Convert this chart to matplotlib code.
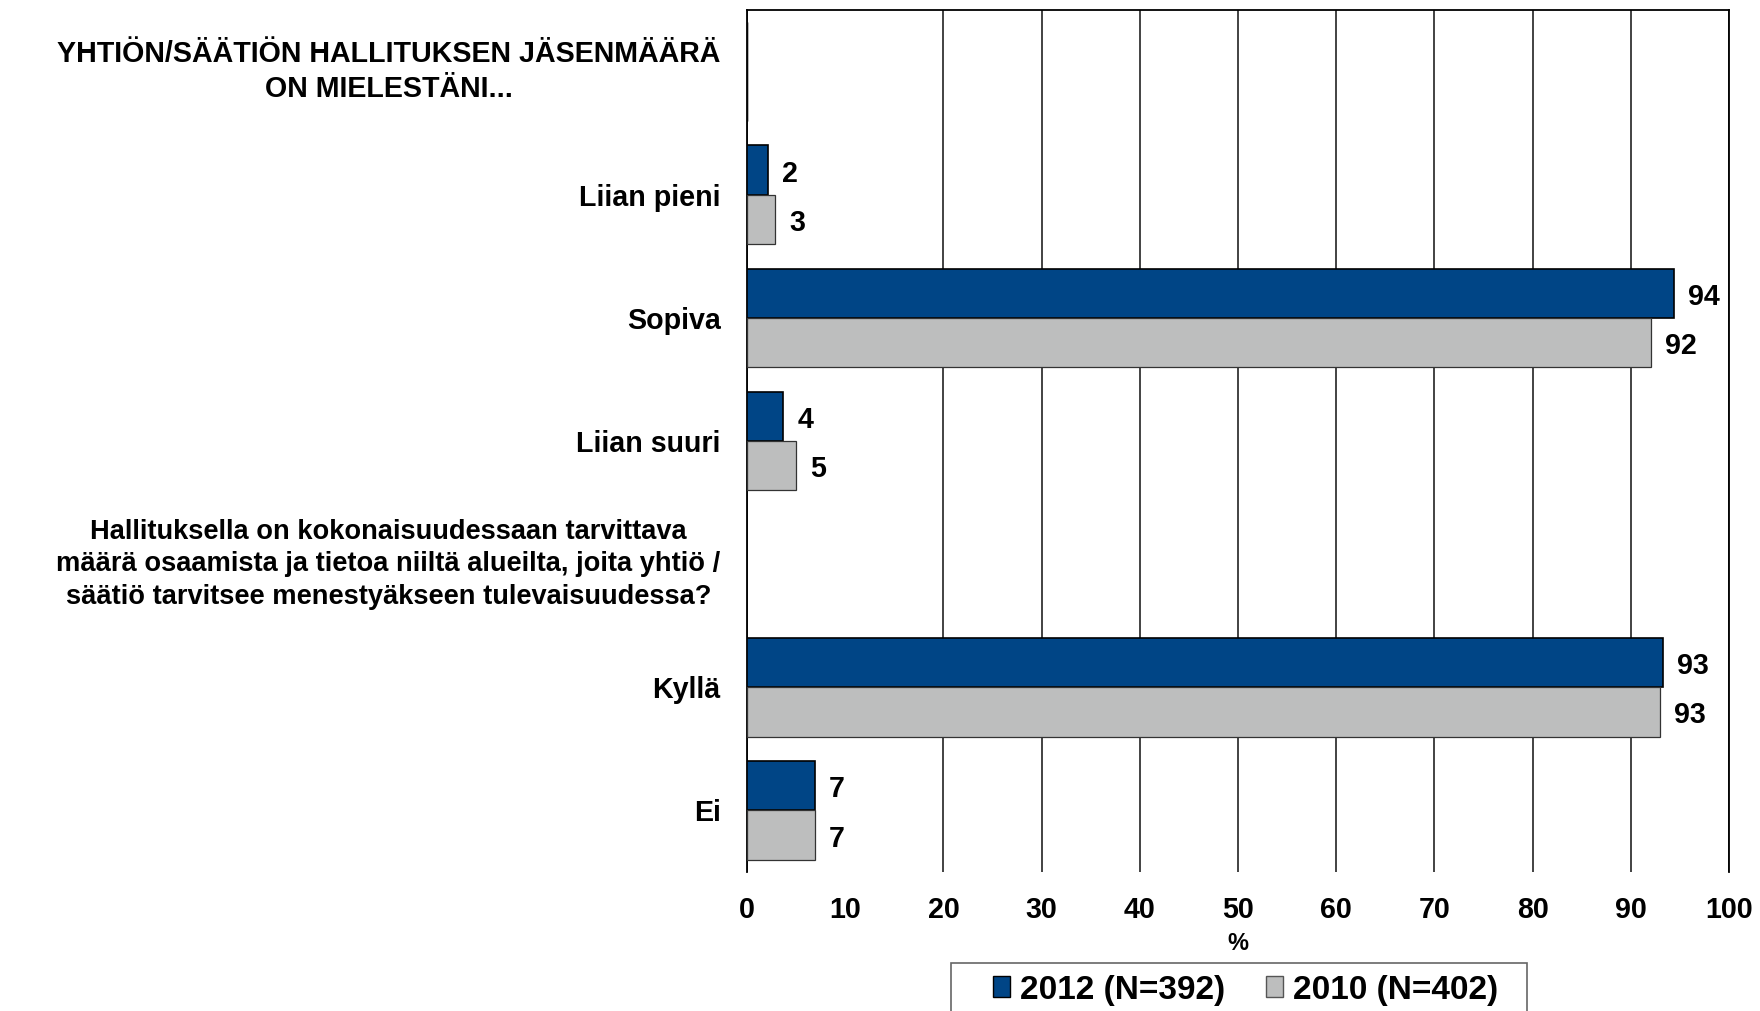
import matplotlib.pyplot as plt
import matplotlib.patches as mpatches
import numpy as np

plt.rcParams['font.family'] = ['Liberation Sans', 'DejaVu Sans']
plt.rcParams['font.weight'] = 'bold'

# rows from top to bottom; header rows carry no bars
categories = [
    "YHTIÖN/SÄÄTIÖN HALLITUKSEN JÄSENMÄÄRÄ\nON MIELESTÄNI...",
    "Liian pieni",
    "Sopiva",
    "Liian suuri",
    "Hallituksella on kokonaisuudessaan tarvittava\nmäärä osaamista ja tietoa niiltä alueilta, joita yhtiö /\nsäätiö tarvitsee menestyäkseen tulevaisuudessa?",
    "Kyllä",
    "Ei",
]
header_rows = [0, 4]
values_2012 = [None, 2.1, 94.4, 3.7, None, 93.3, 6.9]
values_2010 = [None, 2.9, 92.1, 5.0, None, 93.0, 6.9]
series_names = ["2012 (N=392)", "2010 (N=402)"]
x_ticks = [0, 10, 20, 30, 40, 50, 60, 70, 80, 90, 100]

blue = '#004586'
grey = '#BDBEBE'
bar_h = 0.4
fs = 20.6

fig = plt.figure(figsize=(17.6, 10.11), dpi=100)
ax = fig.add_axes([747 / 1760, 1 - 872 / 1011, (1729 - 747) / 1760, (872 - 10) / 1011])

ypos = np.arange(len(categories))
for i, (v12, v10) in enumerate(zip(values_2012, values_2010)):
    if v12 is None:
        continue
    ax.barh(i - bar_h / 2, v12, height=bar_h, color=blue, edgecolor='black', linewidth=1.2, zorder=3)
    ax.barh(i + bar_h / 2, v10, height=bar_h, color=grey, edgecolor='#333333', linewidth=0.9, zorder=3)
    ax.annotate(f"{v12:.0f}", (v12, i - bar_h / 2), xytext=(10, -2.5), textcoords='offset points',
                ha='left', va='center', fontsize=fs, fontweight='bold')
    ax.annotate(f"{v10:.0f}", (v10, i + bar_h / 2), xytext=(10, -2.5), textcoords='offset points',
                ha='left', va='center', fontsize=fs, fontweight='bold')

# legend proxies
ax.barh([0], [0], color=blue, edgecolor='black', linewidth=1, label=series_names[0])
ax.barh([0], [0], color=grey, edgecolor='#555555', linewidth=1, label=series_names[1])

ax.set_ylim(len(categories) - 0.5, -0.5)
ax.set_xlim(0, 100)
ax.set_yticks(ypos)
ax.set_yticklabels(["" if i in header_rows else c for i, c in enumerate(categories)],
                   fontsize=fs, fontweight='bold')
ax.tick_params(axis='y', length=0, pad=19)

# question headers, centred text block ending at the label column
for i in header_rows:
    ax.annotate(categories[i], (0, i), xycoords=('axes fraction', 'data'),
                xytext=(-19, 0), textcoords='offset points', ha='right', va='center',
                multialignment='center', linespacing=1.32, fontweight='bold',
                fontsize=fs if i == 0 else 19.6)

ax.set_xticks(x_ticks)
ax.set_xticklabels([str(t) for t in x_ticks], fontsize=fs, fontweight='bold')
ax.tick_params(axis='x', length=0, pad=17)
ax.set_xlabel("%", fontsize=17, fontweight='bold', labelpad=6)

ax.grid(axis='x', color='#222222', linewidth=1.2, zorder=0)
ax.grid(axis='y', visible=False)
ax.get_xgridlines()[1].set_visible(False)

for side in ['top', 'left', 'right']:
    ax.spines[side].set_color('black')
    ax.spines[side].set_linewidth(1.3)
ax.spines['bottom'].set_visible(False)

# legend box drawn separately so the padding matches
box = mpatches.Rectangle((951 / 1760, -0.01), (1527 - 951) / 1760, 0.01 + 1 - 963 / 1011,
                         transform=fig.transFigure, facecolor='none', edgecolor='#666666',
                         linewidth=1.2, zorder=1)
fig.patches.append(box)
leg = ax.legend(loc='center left', bbox_to_anchor=(993 / 1760, 1 - 990 / 1011),
                bbox_transform=fig.transFigure, ncol=2, fontsize=24, frameon=False,
                handlelength=0.5, handleheight=0.6, handletextpad=0.3,
                columnspacing=1.25, borderpad=0, borderaxespad=0)
for t in leg.get_texts():
    t.set_fontweight('bold')

fig.savefig('out.png', dpi=100)
